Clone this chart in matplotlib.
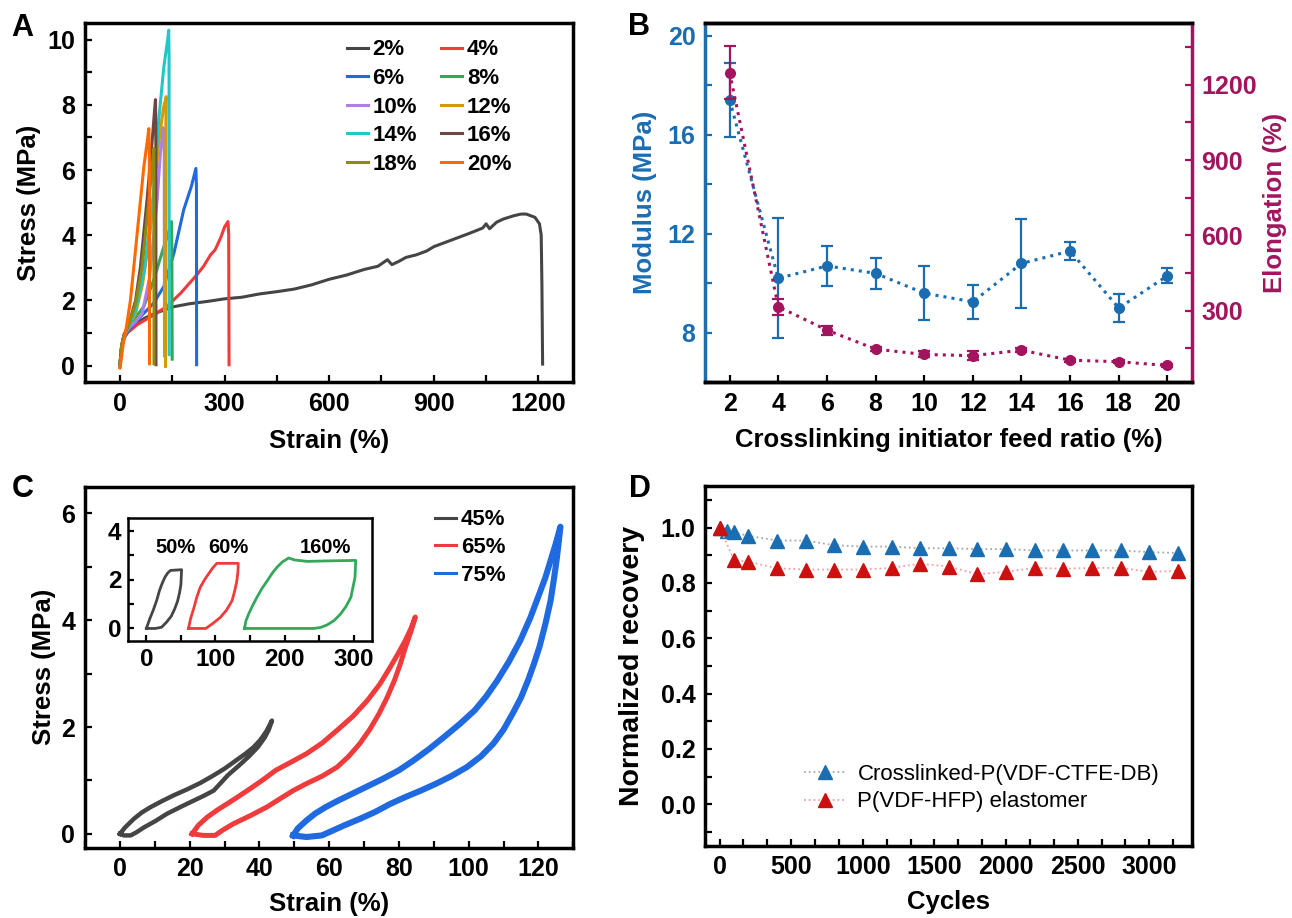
import matplotlib
matplotlib.use("Agg")
import matplotlib.pyplot as plt
from matplotlib.ticker import MultipleLocator, AutoMinorLocator, FormatStrFormatter

plt.rcParams['font.family'] = ['Liberation Sans', 'DejaVu Sans']
plt.rcParams['font.weight'] = 'bold'
plt.rcParams['axes.labelweight'] = 'bold'

# ---- panel A: tensile curves (strain %, stress MPa) ----
a_labels = ['2%', '4%', '6%', '8%', '10%', '12%', '14%', '16%', '18%', '20%']
a_colors = ['#454545', '#ef3b3b', '#1f6ae0', '#33a85a', '#b07ee6',
            '#d19b05', '#22c7c7', '#6e4646', '#8c8c12', '#ff6a00']
a_x = [
    [0, 5, 10, 20, 40, 70, 100, 150, 200, 250, 300, 350, 400, 450, 500, 550, 600, 650, 700, 740,
     767, 780, 800, 820, 850, 880, 900, 950, 1000, 1040, 1050, 1060, 1080, 1100, 1130, 1150,
     1165, 1190, 1203, 1208, 1210, 1212],
    [0, 5, 12, 21, 50, 88, 135, 174, 221, 240, 260, 273, 290, 300, 310, 312, 313],
    [0, 5, 12, 26, 59, 97, 126, 155, 183, 205, 218, 219.5, 220],
    [0, 5, 12, 25, 40, 69, 97, 126, 140, 148, 149, 150],
    [0, 5, 12, 25, 45, 64, 85, 107, 116, 124, 127, 128],
    [0, 5, 12, 25, 45, 65, 88, 112, 125, 133, 132, 131],
    [0, 5, 12, 25, 45, 70, 95, 112, 126, 137, 140, 141, 141.5],
    [0, 5, 12, 25, 45, 59, 78, 92.6, 100, 102, 103, 103.5],
    [0, 5, 12, 25, 45, 64, 83, 93, 97.4, 97.6, 97.8],
    [0, 4, 10, 16, 30.5, 49.6, 68.7, 80, 83, 84.5, 85],
]
a_y = [
    [0, 0.6, 0.85, 1.05, 1.25, 1.45, 1.6, 1.8, 1.9, 1.97, 2.05, 2.1, 2.2, 2.27, 2.35, 2.48, 2.65,
     2.78, 2.95, 3.05, 3.25, 3.1, 3.2, 3.32, 3.4, 3.52, 3.65, 3.85, 4.05, 4.22, 4.35, 4.2, 4.4,
     4.5, 4.6, 4.65, 4.65, 4.55, 4.35, 4.0, 2.5, 0.05],
    [0, 0.55, 0.85, 1.0, 1.26, 1.5, 1.82, 2.22, 2.79, 3.05, 3.4, 3.55, 3.95, 4.25, 4.42, 4.0, 0.03],
    [0, 0.55, 0.85, 1.1, 1.5, 1.92, 2.43, 3.45, 4.78, 5.5, 6.05, 5.5, 0.03],
    [0, 0.6, 0.9, 1.12, 1.41, 1.82, 2.63, 3.65, 4.1, 4.42, 3.5, 0.2],
    [0, 0.6, 0.95, 1.15, 1.35, 1.6, 2.7, 5.1, 6.5, 7.3, 7.0, 0.3],
    [0, 0.6, 0.95, 1.2, 1.6, 2.5, 4.2, 6.9, 7.9, 8.25, 7.5, -0.02],
    [0, 0.6, 0.95, 1.2, 1.7, 2.9, 5.2, 7.6, 9.16, 10.0, 10.29, 9.5, 0.34],
    [0, 0.6, 0.95, 1.25, 2.0, 3.04, 5.1, 6.9, 7.9, 8.16, 7.5, 0.03],
    [0, 0.6, 0.95, 1.25, 1.9, 3.04, 5.08, 6.1, 6.66, 6.0, 0.06],
    [-0.07, 0.2, 0.7, 1.0, 2.02, 4.06, 6.1, 7.0, 7.27, 6.5, 0.06],
]

# ---- panel B: modulus and elongation vs feed ratio ----
feed_ratio = [2, 4, 6, 8, 10, 12, 14, 16, 18, 20]
modulus = [17.4, 10.2, 10.7, 10.4, 9.6, 9.25, 10.8, 11.3, 9.0, 10.3]
modulus_err = [1.5, 2.43, 0.8, 0.62, 1.1, 0.7, 1.78, 0.37, 0.55, 0.3]
elongation = [1249, 316, 223, 147, 126, 121, 143, 103, 97, 82]
elongation_err = [105, 32, 18, 8, 12, 18, 8, 6, 6, 6]

# ---- panel C: cyclic loops (loading then unloading) ----
c_labels = ['45%', '65%', '75%']
c_colors = ['#454545', '#ef3b3b', '#1f6ae0']
c_x = [
    [0, 1.5, 4, 6.3, 8.8, 12, 15.4, 19.2, 23, 26.5, 30, 33, 36, 38.3, 40.3, 42, 43.6,
     42.7, 41.5, 39.5, 37, 34, 31, 28.9, 26.9, 24, 21.1, 17.3, 13.5, 10.2, 6.9, 4.8, 3.1, 1.2, 0],
    [20.7, 22.5, 25, 27.8, 30.7, 33.8, 37, 40.8, 44.7, 49, 53.5, 58, 62.3, 66.8, 71, 74.5, 77.6,
     80, 81.9, 83.5, 84.7,
     83.4, 81.9, 80.4, 78.7, 76.6, 74.3, 71.7, 68.8, 65.6, 62.3, 58, 53.5, 49.7, 46, 42.1, 37.4,
     32.6, 29.5, 27.3, 24, 20.7],
    [49.7, 51, 53.5, 56, 59, 62.5, 66.6, 71, 75.4, 80, 84.1, 88.5, 92.9, 97.5, 101.7, 105, 108.2,
     111.5, 114.8, 117.7, 120.3, 122, 123.5, 125, 126.3,
     125.8, 125.2, 124.4, 123.5, 122, 120.3, 118.7, 117, 115, 112.6, 110, 107.1, 103.5, 99.5, 95,
     90.7, 86.3, 81.9, 77.5, 73.2, 68.8, 64.4, 61, 57.9, 53.5, 49.7],
]
c_y = [
    [0, 0.12, 0.28, 0.4, 0.5, 0.61, 0.72, 0.83, 0.95, 1.08, 1.22, 1.36, 1.5, 1.62, 1.76, 1.92, 2.12,
     1.95, 1.8, 1.62, 1.45, 1.27, 1.1, 0.95, 0.81, 0.71, 0.62, 0.5, 0.375, 0.24, 0.12, 0.03, -0.03,
     -0.03, 0],
    [0, 0.16, 0.31, 0.44, 0.56, 0.69, 0.83, 1.0, 1.19, 1.34, 1.5, 1.7, 1.94, 2.2, 2.5, 2.8, 3.13,
     3.4, 3.63, 3.85, 4.06,
     3.78, 3.5, 3.18, 2.87, 2.55, 2.25, 1.96, 1.69, 1.45, 1.25, 1.08, 0.94, 0.81, 0.66, 0.5, 0.34,
     0.19, 0.07, -0.03, -0.03, 0],
    [-0.03, 0.1, 0.25, 0.38, 0.5, 0.62, 0.75, 0.89, 1.03, 1.19, 1.37, 1.58, 1.81, 2.06, 2.31, 2.57,
     2.87, 3.22, 3.62, 4.05, 4.5, 4.8, 5.12, 5.44, 5.75,
     5.45, 5.12, 4.75, 4.37, 3.93, 3.5, 3.18, 2.87, 2.55, 2.25, 1.95, 1.69, 1.45, 1.25, 1.08,
     0.94, 0.81, 0.69, 0.56, 0.41, 0.28, 0.16, 0.06, -0.03, -0.06, -0.03],
]
# inset loops
ins_labels = ['50%', '60%', '160%']
ins_colors = ['#454545', '#ef3b3b', '#33a85a']
ins_label_x = [42, 119, 259]
ins_x = [
    [0, 5, 10, 15, 19, 23, 27, 31, 35, 51, 50.5, 50, 48, 45, 41, 36, 29, 22, 13, 0],
    [61, 64, 69, 73, 78, 84, 90, 96, 102, 133, 132.5, 131, 128, 124, 116, 107, 96, 86, 61],
    [142, 144, 148, 154, 160, 167, 175, 182, 189, 197, 206, 214, 233, 262, 303, 302.5, 302, 299,
     296, 289, 281, 272, 262, 252, 242, 142],
]
ins_y = [
    [0, 0.4, 0.75, 1.15, 1.55, 1.85, 2.1, 2.27, 2.37, 2.4, 2.1, 1.8, 1.45, 1.1, 0.8, 0.5, 0.25,
     0.05, 0, 0],
    [0, 0.4, 0.86, 1.28, 1.68, 1.98, 2.23, 2.47, 2.66, 2.66, 2.3, 1.95, 1.55, 1.13, 0.75, 0.45,
     0.2, 0, 0],
    [0, 0.3, 0.59, 0.95, 1.27, 1.62, 1.95, 2.25, 2.5, 2.72, 2.88, 2.8, 2.74, 2.76, 2.78, 2.45,
     2.09, 1.68, 1.27, 0.9, 0.59, 0.33, 0.15, 0.04, 0, 0],
]

# ---- panel D: recovery vs cycles ----
cycles_xl = [0, 50, 100, 200, 400, 600, 800, 1000, 1200, 1400, 1600, 1800, 2000, 2200, 2400,
             2600, 2800, 3000, 3200]
recovery_xl = [1.0, 0.988, 0.982, 0.97, 0.953, 0.953, 0.936, 0.931, 0.931, 0.925, 0.925, 0.922,
               0.922, 0.917, 0.917, 0.917, 0.917, 0.911, 0.908]
cycles_hfp = [0, 100, 200, 400, 600, 800, 1000, 1200, 1400, 1600, 1800, 2000, 2200, 2400,
              2600, 2800, 3000, 3200]
recovery_hfp = [1.0, 0.883, 0.876, 0.853, 0.848, 0.848, 0.848, 0.854, 0.869, 0.859, 0.831, 0.84,
                0.854, 0.851, 0.854, 0.854, 0.84, 0.843]

BLUE = '#1b6db2'
MAROON = '#a3145e'
W, H = 1292, 918
TICK_FS = 18
LABEL_FS = 18.5
LEG_FS = 16


def box(l, t, r, b):
    return [l / W, 1 - b / H, (r - l) / W, (b - t) / H]


def style(ax, lw=2.5, length=5, fs=TICK_FS):
    for s in ax.spines.values():
        s.set_linewidth(lw)
    ax.tick_params(which='both', direction='in', length=length, width=1.6,
                   top=False, right=False, labelsize=fs, pad=7)


def place_labels(ax, r, xlab_y, ylab_x):
    # centre of x label at pixel row xlab_y, centre of y label at pixel column ylab_x
    ax.xaxis.set_label_coords(0.5, (r[3] - xlab_y) / (r[3] - r[1]))
    ax.xaxis.label.set_va('center')
    ax.yaxis.set_label_coords((ylab_x - r[0]) / (r[2] - r[0]), 0.5)
    ax.yaxis.label.set_va('center')


fig = plt.figure(figsize=(W / 100, H / 100), dpi=100)

# ================= A =================
rA = (85, 23.3, 573.3, 382)
axA = fig.add_axes(box(*rA))
for xs, ys, c, lab in zip(a_x, a_y, a_colors, a_labels):
    axA.plot(xs, ys, color=c, lw=2.2, label=lab)
axA.set_xlim(-100, 1300)
axA.set_ylim(-0.5, 10.5)
axA.xaxis.set_major_locator(MultipleLocator(300))
axA.xaxis.set_minor_locator(AutoMinorLocator(2))
axA.yaxis.set_major_locator(MultipleLocator(2))
axA.yaxis.set_minor_locator(AutoMinorLocator(2))
style(axA)
axA.set_xlabel('Strain (%)', fontsize=LABEL_FS)
axA.set_ylabel('Stress (MPa)', fontsize=LABEL_FS)
place_labels(axA, rA, 441, 29)
h, l = axA.get_legend_handles_labels()
order = [0, 2, 4, 6, 8, 1, 3, 5, 7, 9]
axA.legend([h[i] for i in order], [l[i] for i in order], ncol=2, frameon=False,
           loc='upper left', bbox_to_anchor=(0.536, 0.955), borderpad=0, borderaxespad=0,
           handlelength=0.95, handletextpad=0.2, columnspacing=1.1,
           labelspacing=0.34, fontsize=LEG_FS)

# ================= B =================
rB = (705.3, 23.3, 1191.7, 382.3)
axB = fig.add_axes(box(*rB))
axB.errorbar(feed_ratio, modulus, yerr=modulus_err, fmt='o', ls=':', color=BLUE, lw=2.2,
             ms=7, capsize=4, elinewidth=1.6, capthick=1.6)
axB.set_xlim(1, 21)
axB.set_ylim(6, 20.5)
axB.xaxis.set_major_locator(MultipleLocator(2))
axB.yaxis.set_major_locator(MultipleLocator(4))
axB.yaxis.set_minor_locator(AutoMinorLocator(2))
style(axB)
axB.spines['left'].set_color(BLUE)
axB.spines['right'].set_visible(False)
axB.tick_params(axis='y', which='both', colors=BLUE)
axB.set_xlabel('Crosslinking initiator feed ratio (%)', fontsize=LABEL_FS)
axB.set_ylabel('Modulus (MPa)', fontsize=LABEL_FS, color=BLUE)
place_labels(axB, rB, 440, 645)

axB2 = axB.twinx()
axB2.errorbar(feed_ratio, elongation, yerr=elongation_err, fmt='o', ls=':', color=MAROON,
              lw=2.2, ms=7, capsize=4, elinewidth=1.6, capthick=1.6)
axB2.set_ylim(15, 1445)
axB2.yaxis.set_major_locator(MultipleLocator(300))
axB2.yaxis.set_minor_locator(AutoMinorLocator(2))
for s in axB2.spines.values():
    s.set_linewidth(2.5)
axB2.spines['left'].set_visible(False)
axB2.spines['right'].set_color(MAROON)
axB2.tick_params(which='both', direction='in', length=5, width=1.6, labelsize=TICK_FS,
                 pad=7, colors=MAROON, left=False, right=True)
axB2.set_ylabel('Elongation (%)', fontsize=LABEL_FS, color=MAROON)
axB2.yaxis.set_label_coords((1275 - rB[0]) / (rB[2] - rB[0]), 0.5)
axB2.yaxis.label.set_va('center')

# ================= C =================
rC = (85, 486.7, 573.3, 847.7)
axC = fig.add_axes(box(*rC))
for xs, ys, c, lab, lw in zip(c_x, c_y, c_colors, c_labels, [3.2, 3.6, 4.4]):
    axC.plot(xs, ys, color=c, lw=lw, label=lab, solid_joinstyle='round')
axC.set_xlim(-10, 130)
axC.set_ylim(-0.26, 6.5)
axC.xaxis.set_major_locator(MultipleLocator(20))
axC.xaxis.set_minor_locator(AutoMinorLocator(2))
axC.yaxis.set_major_locator(MultipleLocator(2))
axC.yaxis.set_minor_locator(AutoMinorLocator(2))
style(axC)
axC.set_xlabel('Strain (%)', fontsize=LABEL_FS)
axC.set_ylabel('Stress (MPa)', fontsize=LABEL_FS)
place_labels(axC, rC, 904, 44)
legC = axC.legend(frameon=False, loc='upper left', bbox_to_anchor=(0.717, 0.937),
                  borderpad=0, borderaxespad=0, handlelength=0.95, handletextpad=0.2,
                  labelspacing=0.3, fontsize=LEG_FS)
for ln in legC.get_lines():
    ln.set_linewidth(2.2)

# inset
rI = (128.4, 518.3, 371.6, 640.7)
axI = fig.add_axes(box(*rI))
for xs, ys, c in zip(ins_x, ins_y, ins_colors):
    axI.plot(xs, ys, color=c, lw=2.0, solid_joinstyle='round')
for xl, lab in zip(ins_label_x, ins_labels):
    axI.text(xl, 3.32, lab, ha='center', va='center', fontsize=14.5)
axI.set_xlim(-26, 326)
axI.set_ylim(-0.5, 4.5)
axI.xaxis.set_major_locator(MultipleLocator(100))
axI.xaxis.set_minor_locator(AutoMinorLocator(2))
axI.yaxis.set_major_locator(MultipleLocator(2))
axI.yaxis.set_minor_locator(AutoMinorLocator(2))
style(axI, lw=1.8, length=4, fs=17.5)
axI.tick_params(pad=5)

# ================= D =================
rD = (705.3, 486, 1192.3, 845.7)
axD = fig.add_axes(box(*rD))
axD.plot(cycles_xl, recovery_xl, ls=':', color='#a8a8a8', lw=1.3, marker='^', ms=9.5,
         mfc=BLUE, mec=BLUE, label='Crosslinked-P(VDF-CTFE-DB)')
axD.plot(cycles_hfp, recovery_hfp, ls=':', color='#f2a0a0', lw=1.3, marker='^', ms=9.5,
         mfc='#cc1010', mec='#cc1010', label='P(VDF-HFP) elastomer')
axD.set_xlim(-100, 3300)
axD.set_ylim(-0.15, 1.15)
axD.xaxis.set_major_locator(MultipleLocator(500))
axD.xaxis.set_minor_locator(AutoMinorLocator(3))
axD.yaxis.set_major_locator(MultipleLocator(0.2))
axD.yaxis.set_minor_locator(MultipleLocator(0.1))
axD.yaxis.set_major_formatter(FormatStrFormatter('%.1f'))
style(axD)
axD.set_xlabel('Cycles', fontsize=LABEL_FS)
axD.set_ylabel('Normalized recovery', fontsize=20.5)
place_labels(axD, rD, 902, 632)
axD.legend(frameon=False, loc='upper left', bbox_to_anchor=(0.203, 0.228), borderpad=0,
           borderaxespad=0, handlelength=1.9, handletextpad=0.5, labelspacing=0.3,
           numpoints=1, prop={'size': 16, 'weight': 'normal'})

# panel letters
for letter, x, yb in [('A', 11.5, 36), ('B', 628, 35), ('C', 12, 497), ('D', 629, 497)]:
    fig.text(x / W, 1 - yb / H, letter, fontsize=22, fontweight='bold', va='baseline')

fig.savefig('out.png', dpi=100)
